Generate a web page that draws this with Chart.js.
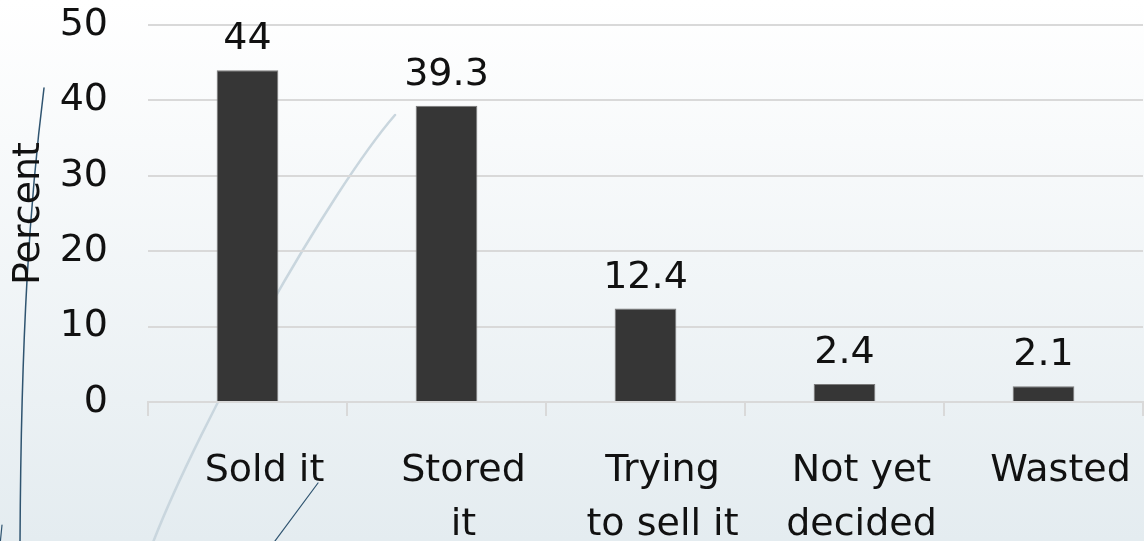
<!DOCTYPE html>
<html>
<head>
<meta charset="utf-8">
<script src="https://cdn.jsdelivr.net/npm/chart.js@4"></script>
<style>
  html, body { margin: 0; padding: 0; }
  body { width: 1144px; height: 541px; overflow: hidden; }
  #wrap { width: 1144px; height: 541px; position: relative; }
</style>
</head>
<body>
<div id="wrap"><canvas id="chart"></canvas></div>
<script>
const categories = [['Sold it'], ['Stored', 'it'], ['Trying', 'to sell it'], ['Not yet', 'decided'], ['Wasted']];
const percents   = [44, 39.3, 12.4, 2.4, 2.1];
const yTicks     = [0, 10, 20, 30, 40, 50];

const FONT = "'DejaVu Sans', sans-serif";
const TEXT = '#111';
const GRID = '#d9d9d9';

// slide background + theme swooshes
const backdrop = {
  id: 'backdrop',
  beforeDraw(chart) {
    const { ctx, width, height } = chart;
    ctx.save();
    const g = ctx.createLinearGradient(0, 0, 0, height);
    g.addColorStop(0, '#ffffff');
    g.addColorStop(1, '#e4ecf0');
    ctx.fillStyle = g;
    ctx.fillRect(0, 0, width, height);

    ctx.lineCap = 'round';
    // light wide swoosh
    ctx.strokeStyle = '#c9d6de';
    ctx.lineWidth = 2.5;
    ctx.beginPath();
    ctx.moveTo(395, 115);
    ctx.bezierCurveTo(330, 190, 200, 420, 152, 545);
    ctx.stroke();
    // dark thin swooshes
    ctx.strokeStyle = '#2f5470';
    ctx.lineWidth = 1.5;
    ctx.beginPath();
    ctx.moveTo(44, 88);
    ctx.bezierCurveTo(30, 200, 21, 330, 20, 545);
    ctx.stroke();
    ctx.lineWidth = 1.2;
    ctx.beginPath();
    ctx.moveTo(318, 483);
    ctx.lineTo(272, 545);
    ctx.stroke();
    ctx.beginPath();
    ctx.moveTo(2, 525);
    ctx.lineTo(0, 545);
    ctx.stroke();
    ctx.restore();
  }
};

// value labels above bars
const valueLabels = {
  id: 'valueLabels',
  afterDatasetsDraw(chart) {
    const { ctx } = chart;
    const meta = chart.getDatasetMeta(0);
    ctx.save();
    ctx.font = '38px ' + FONT;
    ctx.fillStyle = TEXT;
    ctx.textAlign = 'center';
    ctx.textBaseline = 'alphabetic';
    meta.data.forEach((bar, i) => {
      ctx.fillText(String(percents[i]), bar.x, bar.y - 21);
    });
    ctx.restore();
  }
};

new Chart(document.getElementById('chart'), {
  type: 'bar',
  data: {
    labels: categories,
    datasets: [{
      data: percents,
      backgroundColor: '#363636',
      borderColor: '#7a7a7a',
      borderWidth: 1,
      categoryPercentage: 1,
      barPercentage: 0.31,
    }],
  },
  options: {
    responsive: true,
    maintainAspectRatio: false,
    animation: false,
    layout: { padding: { top: 25, right: 1, left: 6, bottom: 0 } },
    plugins: {
      legend:  { display: false },
      tooltip: { enabled: false },
    },
    scales: {
      x: {
        offset: true,
        afterFit: axis => {
          axis.height = 139;
          axis.paddingLeft = 0;
          axis.paddingRight = 0;
        },
        grid: {
          offset: true,
          drawOnChartArea: false,
          drawTicks: true,
          tickLength: 14,
          color: GRID,
          lineWidth: 2,
        },
        border: { color: GRID, width: 2 },
        ticks: {
          color: TEXT,
          font: { family: FONT, size: 38, lineHeight: 1.4 },
          padding: 29,
          labelOffset: 17,
          maxRotation: 0,
          autoSkip: false,
        },
      },
      y: {
        min: 0,
        max: 50,
        afterBuildTicks: axis => { axis.ticks = yTicks.map(v => ({ value: v })); },
        afterFit: axis => {
          axis.width = 142;
          axis.paddingTop = 0;
          axis.paddingBottom = 0;
        },
        grid: { color: GRID, lineWidth: 2, drawTicks: false },
        border: { display: false },
        ticks: {
          color: TEXT,
          font: { family: FONT, size: 38 },
          padding: 40,
        },
        title: {
          display: true,
          text: 'Percent',
          color: TEXT,
          font: { family: FONT, size: 38 },
          padding: { top: 0, bottom: 0 },
        },
      },
    },
  },
  plugins: [backdrop, valueLabels],
});
</script>
</body>
</html>
